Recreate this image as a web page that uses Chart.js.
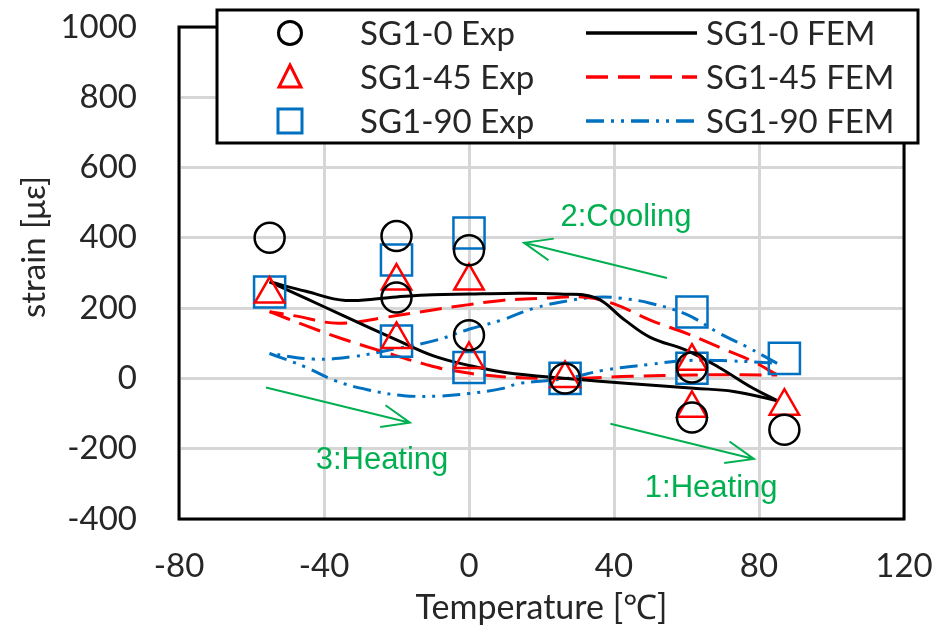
<!DOCTYPE html>
<html>
<head>
<meta charset="utf-8">
<script src="https://cdn.jsdelivr.net/npm/chart.js@4.4.0/dist/chart.umd.min.js"></script>
<style>
html, body { margin: 0; padding: 0; background: #fff; }
</style>
</head>
<body>
<canvas id="sg1" width="943" height="640"></canvas>
<script>
// measured strain gauge SG1 (three directions)
var expTemp = [-55, -20, -20, 0, 0, 26.5, 61.5, 61.5, 87];
var sg0Exp  = [400, 405, 230, 365, 123, 0, 31, -111, -146];
var sg45Exp = [240, 277, 111, 277, 54, 0, 49, -85, -79];
var sg90Exp = [246, 337, 106, 414, 31, 0, 189, 29, 57];

// FEM results, heating branch (-55 -> 85) and cooling branch (85 -> -55)
var sg0HeatT = [-55, -45, -35, -20, -10, 0, 10, 27, 45, 62, 73, 85];
var sg0Heat  = [275, 228, 180, 110, 65, 37, 17, 0, -15, -28, -37, -63];
var sg0CoolT = [85, 78, 69, 60, 50, 43, 35, 25, 10, 0, -10, -20, -34, -45, -55];
var sg0Cool  = [-63, -26, 31, 80, 117, 166, 229, 240, 242, 240, 238, 232, 222, 248, 275];

var sg45HeatT = [-55, -45, -35, -23, -12, -5, 9, 27, 45, 62, 85];
var sg45Heat  = [190, 150, 113, 74, 40, 23, 5, 0, 6, 10, 10];
var sg45CoolT = [85, 78, 69, 60, 50, 40, 32, 22, 9, 0, -10, -23, -36, -48, -55];
var sg45Cool  = [10, 50, 89, 128, 166, 212, 231, 229, 222, 210, 195, 174, 157, 178, 190];

var sg90HeatT = [-55, -45, -37, -28, -18, -8, 0, 9, 14, 27, 37, 50, 60, 72, 85];
var sg90Heat  = [71, 32, -6, -32, -49, -50, -43, -29, -14, 0, 23, 40, 51, 50, 43];
var sg90CoolT = [85, 77, 69, 60, 50, 42, 35, 27, 18, 9, 0, -9, -20, -32, -43, -55];
var sg90Cool  = [43, 88, 129, 182, 214, 228, 231, 220, 200, 166, 140, 109, 85, 62, 55, 71];

var xTicks = [-80, -40, 0, 40, 80, 120];
var yTicks = [-400, -200, 0, 200, 400, 600, 800, 1000];

function pts(t, s) {
    var out = [];
    for (let i = 0; i < t.length; i++) out.push({x: t[i], y: s[i]});
    return out;
}

var BLACK = '#000000', RED = '#FF0000', BLUE = '#0070C0', GREEN = '#00B050';
var TEXT = '#262626';
var FONT = 'Lato';

var dashRed = [22, 10];
var dashBlue = [18, 7, 3, 7, 3, 7];

function fem(label, data, color, dash) {
    return {
        label: label, data: data, showLine: true, borderColor: color,
        borderWidth: 3, borderDash: dash, pointRadius: 0, tension: 0.4, fill: false
    };
}

var datasets = [
    {label: 'SG1-0 Exp', data: pts(expTemp, sg0Exp), pointStyle: 'circle', pointRadius: 15,
     borderColor: BLACK, backgroundColor: 'transparent', borderWidth: 2.5, showLine: false},
    {label: 'SG1-45 Exp', data: pts(expTemp, sg45Exp), pointStyle: 'triangle', pointRadius: 17,
     borderColor: RED, backgroundColor: 'transparent', borderWidth: 2.5, showLine: false},
    {label: 'SG1-90 Exp', data: pts(expTemp, sg90Exp), pointStyle: 'rect', pointRadius: 22,
     borderColor: BLUE, backgroundColor: 'transparent', borderWidth: 2.5, showLine: false},
    fem('SG1-0 FEM', pts(sg0HeatT, sg0Heat), BLACK, []),
    fem('SG1-0 FEM', pts(sg0CoolT, sg0Cool), BLACK, []),
    fem('SG1-45 FEM', pts(sg45HeatT, sg45Heat), RED, dashRed),
    fem('SG1-45 FEM', pts(sg45CoolT, sg45Cool), RED, dashRed),
    fem('SG1-90 FEM', pts(sg90HeatT, sg90Heat), BLUE, dashBlue),
    fem('SG1-90 FEM', pts(sg90CoolT, sg90Cool), BLUE, dashBlue)
];

// arrows with the load step names, in data units
var steps = [
    {text: '1:Heating', from: [39, -129], to: [78.6, -229], at: [66.8, -314]},
    {text: '2:Cooling', from: [54.6, 286], to: [15.2, 386], at: [43.3, 457]},
    {text: '3:Heating', from: [-56, -26], to: [-16.3, -126], at: [-24, -234]}
];

// fixed axis box sizes, no extra room for overhanging labels
function fixBox(w, h) {
    return function (s) {
        if (w) s.width = w;
        if (h) s.height = h;
        s.paddingTop = s.paddingBottom = s.paddingLeft = s.paddingRight = 0;
    };
}

var frame = {
    id: 'frame',
    beforeDatasetsDraw(chart) {
        var a = chart.chartArea, c = chart.ctx;
        c.save();
        c.strokeStyle = BLACK;
        c.lineWidth = 3;
        c.strokeRect(a.left, a.top, a.right - a.left, a.bottom - a.top);
        c.restore();
    },
    afterDraw(chart) {
        var c = chart.ctx, xs = chart.scales.x, ys = chart.scales.y;
        c.save();
        // step arrows
        c.strokeStyle = GREEN;
        c.fillStyle = GREEN;
        c.lineWidth = 2;
        steps.forEach(function (s) {
            var x1 = xs.getPixelForValue(s.from[0]), y1 = ys.getPixelForValue(s.from[1]);
            var x2 = xs.getPixelForValue(s.to[0]), y2 = ys.getPixelForValue(s.to[1]);
            var ang = Math.atan2(y2 - y1, x2 - x1), len = 30, sp = 0.38;
            c.beginPath();
            c.moveTo(x1, y1); c.lineTo(x2, y2);
            c.moveTo(x2 - len * Math.cos(ang - sp), y2 - len * Math.sin(ang - sp));
            c.lineTo(x2, y2);
            c.lineTo(x2 - len * Math.cos(ang + sp), y2 - len * Math.sin(ang + sp));
            c.stroke();
            c.font = '31px "Liberation Sans", Arial, sans-serif';
            c.textAlign = 'center';
            c.textBaseline = 'middle';
            c.fillText(s.text, xs.getPixelForValue(s.at[0]), ys.getPixelForValue(s.at[1]));
        });

        // y axis title
        c.fillStyle = TEXT;
        c.font = '33px ' + FONT;
        c.translate(34, 247);
        c.rotate(-Math.PI / 2);
        c.textAlign = 'center';
        c.textBaseline = 'middle';
        c.fillText('strain [με]', 0, 0);
        c.setTransform(1, 0, 0, 1, 0, 0);

        // legend box
        var bx = 217, by = 10, bw = 701, bh = 133;
        c.fillStyle = '#fff';
        c.fillRect(bx, by, bw, bh);
        c.strokeStyle = BLACK;
        c.lineWidth = 3;
        c.strokeRect(bx, by, bw, bh);
        var rows = [33, 77, 121];
        c.font = '33px ' + FONT;
        c.textAlign = 'left';
        c.textBaseline = 'middle';
        for (let i = 0; i < 3; i++) {
            var d = datasets[i], y = rows[i];
            // marker
            c.strokeStyle = d.borderColor;
            c.lineWidth = 3;
            c.setLineDash([]);
            c.beginPath();
            if (d.pointStyle === 'circle') {
                c.arc(290, y, 11.5, 0, Math.PI * 2);
            } else if (d.pointStyle === 'triangle') {
                c.moveTo(290, y - 12); c.lineTo(301, y + 10); c.lineTo(279, y + 10); c.closePath();
            } else {
                c.rect(278, y - 12, 24, 24);
            }
            c.stroke();
            c.fillStyle = TEXT;
            c.fillText(d.label, 360, y + 1);
            // FEM line sample
            var f = datasets[3 + i * 2];
            c.strokeStyle = f.borderColor;
            c.lineWidth = 3.5;
            c.setLineDash(f.borderDash);
            c.beginPath();
            c.moveTo(586, y); c.lineTo(697, y);
            c.stroke();
            c.setLineDash([]);
            c.fillText(f.label, 706, y + 1);
        }
        c.restore();
    }
};

new Chart(document.getElementById('sg1').getContext('2d'), {
    type: 'scatter',
    data: {datasets: datasets},
    options: {
        responsive: false,
        animation: false,
        layout: {padding: {top: 27, right: 39, left: 0, bottom: 0}},
        plugins: {legend: {display: false}, tooltip: {enabled: false}},
        scales: {
            x: {
                type: 'linear', min: -80, max: 120,
                afterBuildTicks: function (s) { s.ticks = xTicks.map(function (v) { return {value: v}; }); },
                afterFit: fixBox(0, 121),
                grid: {color: '#d6d6d6', lineWidth: 3, drawTicks: false},
                border: {display: false},
                ticks: {color: TEXT, font: {family: FONT, size: 33}, padding: 28, maxRotation: 0,
                        callback: function (v) { return String(v); }},
                title: {display: true, text: 'Temperature [℃]', color: TEXT,
                        font: {family: FONT, size: 34}, padding: {top: 0, bottom: 12}}
            },
            y: {
                type: 'linear', min: -400, max: 1000,
                afterBuildTicks: function (s) { s.ticks = yTicks.map(function (v) { return {value: v}; }); },
                afterFit: fixBox(179, 0),
                grid: {color: '#d6d6d6', lineWidth: 3, drawTicks: false},
                border: {display: false},
                ticks: {color: TEXT, font: {family: FONT, size: 33}, padding: 42,
                        callback: function (v) { return String(v); }}
            }
        }
    },
    plugins: [frame]
});
</script>
</body>
</html>
